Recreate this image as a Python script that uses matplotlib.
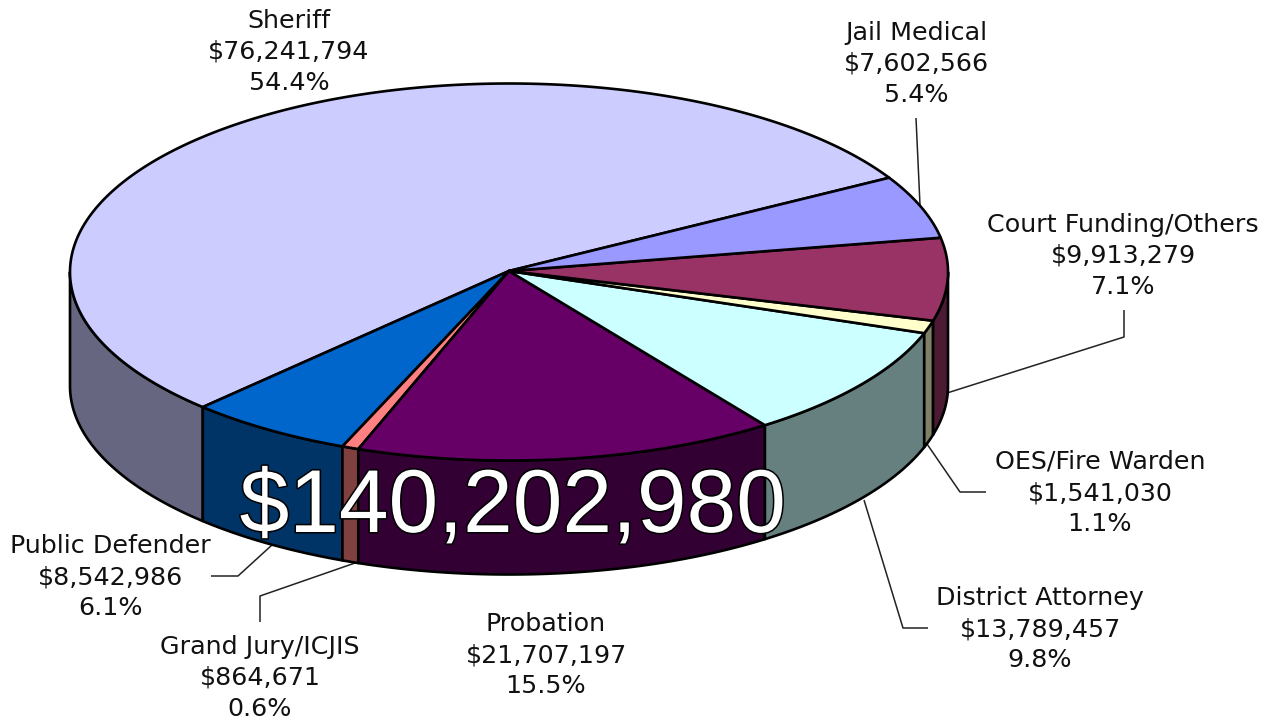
import numpy as np
import matplotlib
matplotlib.use("Agg")
import matplotlib.pyplot as plt
from matplotlib.patches import Polygon
import matplotlib.patheffects as pe

names = ["Sheriff", "Public Defender", "Grand Jury/ICJIS", "Probation",
         "District Attorney", "OES/Fire Warden", "Court Funding/Others", "Jail Medical"]
amounts = [76241794, 8542986, 864671, 21707197, 13789457, 1541030, 9913279, 7602566]
amount_labels = ["$76,241,794", "$8,542,986", "$864,671", "$21,707,197",
                 "$13,789,457", "$1,541,030", "$9,913,279", "$7,602,566"]
pct_labels = ["54.4%", "6.1%", "0.6%", "15.5%", "9.8%", "1.1%", "7.1%", "5.4%"]
top_colors = ["#CCCCFF", "#0066CC", "#FF8080", "#660066", "#CCFFFF", "#FFFFCC", "#993366", "#9999FF"]
side_colors = ["#666680", "#003366", "#804040", "#330033", "#668080", "#808066", "#4D1A33", "#4D4D80"]
total_label = "$140,202,980"

CX, CY, RX, RY, DEPTH = 509, 272, 439, 188.5, 114
START = 30.0
label_pos = [(289, 52), (110, 577), (260, 678), (546, 655), (1040, 629), (1100, 493), (1123, 256), (916, 64)]
leaders = [None,
           [(272, 545), (238, 576), (211, 576)],
           [(355, 563), (260, 596), (260, 622)],
           None,
           [(864, 500), (903, 628), (928, 628)],
           [(927, 444), (960, 492), (986, 492)],
           [(947, 393), (1124, 337), (1124, 310)],
           [(916, 118), (920, 205)]]

fig = plt.figure(figsize=(12.78, 7.27), dpi=100, facecolor="white")
ax = fig.add_axes([0, 0, 1, 1])
ax.set_xlim(0, 1278)
ax.set_ylim(727, 0)
ax.axis("off")


def pt(deg, dz=0):
    r = np.radians(deg)
    return CX + RX * np.cos(r), CY - RY * np.sin(r) + dz


spans = np.array(amounts, dtype=float) / sum(amounts) * 360
edges = START + np.concatenate([[0], np.cumsum(spans)])

# side walls (only the front half of the rim is visible)
for i in range(len(amounts)):
    a0 = max(edges[i], 180)
    a1 = min(edges[i + 1], 360)
    if a1 > a0:
        t = np.linspace(a0, a1, 80)
        upper = np.array([pt(d) for d in t])
        lower = np.array([pt(d, DEPTH) for d in t[::-1]])
        ax.add_patch(Polygon(np.vstack([upper, lower]), closed=True, fc=side_colors[i],
                             ec="black", lw=1.9, joinstyle="round", zorder=2))

# top faces
for i in range(len(amounts)):
    t = np.linspace(edges[i], edges[i + 1], max(int(spans[i] * 2), 8))
    arc = np.array([pt(d) for d in t])
    ax.add_patch(Polygon(np.vstack([[(CX, CY - 1)], arc]), closed=True, fc=top_colors[i],
                         ec="black", lw=1.9, joinstyle="round", zorder=3))

# leader lines
for seg in leaders:
    if seg:
        xs, ys = zip(*seg)
        ax.plot(xs, ys, color="#222222", lw=1.1, zorder=1, solid_capstyle="butt")

# category labels
for n, a, p, (x, y) in zip(names, amount_labels, pct_labels, label_pos):
    ax.text(x, y, f"{n}\n{a}\n{p}", ha="center", va="center", fontsize=18.3,
            family="DejaVu Sans", color="#111111", linespacing=1.37, zorder=5)

# central total
ax.text(512.5, 532, total_label, ha="center", va="baseline", fontsize=64.3, family="Liberation Sans",
        color="white", zorder=6,
        path_effects=[pe.withStroke(linewidth=2.2, foreground="black")])

fig.savefig("out.png", dpi=100, facecolor="white")
